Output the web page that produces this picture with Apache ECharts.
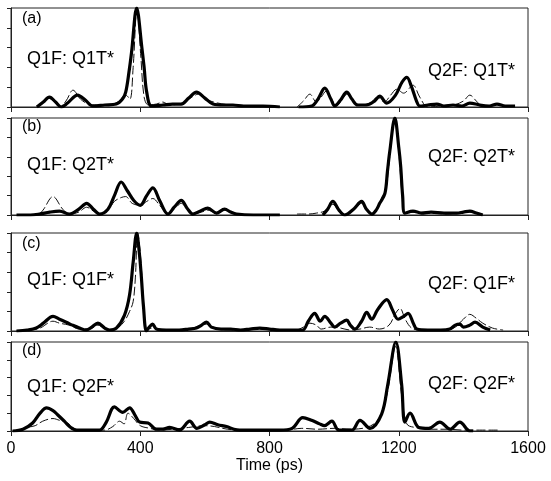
<!DOCTYPE html>
<html><head><meta charset="utf-8">
<script src="https://cdn.jsdelivr.net/npm/echarts@6/dist/echarts.min.js"></script>
<style>html,body{margin:0;padding:0;background:#fff}#c{width:551px;height:481px}</style>
</head><body><div id="c"></div>
<script>
var xTicks = [0, 400, 800, 1200, 1600];
var panelLabels = ['(a)', '(b)', '(c)', '(d)'];
var leftLabels = ['Q1F: Q1T*', 'Q1F: Q2T*', 'Q1F: Q1F*', 'Q1F: Q2F*'];
var rightLabels = ['Q2F: Q1T*', 'Q2F: Q2T*', 'Q2F: Q1F*', 'Q2F: Q2F*'];

var aThick = [[80,0],[100,5],[119,10],[138,5],[156,0],[175,4],[206,12],[230,7],[253,1],[290,2],[326,3],[345,8],[355,15],[365,35],[373,55],[389,100],[405,60],[412,40],[420,15],[435,1],[470,2],[500,3],[527,3],[550,9],[574,15],[600,9],[625,3],[660,2],[687,2],[720,1],[780,1],[832,0],[860,null],[890,0],[930,1],[950,8],[971,19],[990,8],[1002,1],[1020,7],[1039,15],[1055,8],[1073,2],[1100,2],[1125,6],[1141,11],[1163,4],[1190,12],[1210,25],[1225,30],[1240,20],[1255,6],[1265,1],[1290,2],[1318,3],[1340,1],[1368,2],[1395,1],[1420,4],[1450,2],[1480,1],[1504,3],[1530,1],[1560,1]];
var aThin = [[80,0],[100,4],[115,9],[135,5],[150,0],[170,6],[192,17],[215,8],[240,3],[270,2],[300,2],[330,5],[355,12],[368,8],[378,40],[390,100],[402,50],[412,10],[425,2],[450,3],[470,5],[490,2],[530,4],[560,10],[580,13],[610,7],[640,4],[680,2],[720,1],[780,0],[832,0],[860,null],[885,0],[905,6],[925,13],[945,5],[960,10],[975,16],[995,6],[1010,2],[1025,8],[1040,13],[1060,6],[1080,2],[1110,4],[1135,10],[1155,5],[1175,12],[1194,18],[1215,14],[1244,22],[1265,10],[1290,0],[1330,1],[1370,2],[1400,6],[1420,12],[1440,6],[1452,2]];
var bThick = [[17,0],[60,0],[88,1],[120,3],[150,4],[181,1],[210,6],[234,12],[255,6],[274,1],[300,6],[320,20],[341,34],[360,25],[380,15],[400,10],[420,20],[439,28],[460,15],[486,1],[505,8],[527,15],[545,7],[563,1],[585,4],[609,7],[636,2],[661,6],[680,3],[698,1],[750,0],[832,0],[860,null],[965,0],[980,6],[996,14],[1015,5],[1033,0],[1060,6],[1085,14],[1100,6],[1117,1],[1130,5],[1141,12],[1157,22],[1165,45],[1172,65],[1188,100],[1200,70],[1206,50],[1212,20],[1219,2],[1244,4],[1270,2],[1300,3],[1340,2],[1380,2],[1400,3],[1420,4],[1440,2],[1460,0]];
var bThin = [[50,0],[85,1],[99,5],[130,19],[160,6],[181,1],[210,3],[234,8],[255,4],[274,1],[300,5],[320,14],[341,18],[355,19],[375,12],[400,10],[420,14],[439,17],[460,10],[486,1],[505,6],[527,12],[545,6],[563,1],[590,3],[609,5],[636,2],[661,5],[680,3],[700,1],[760,0],[832,0],[860,null],[885,1],[920,1],[946,2],[970,4],[996,11],[1015,4],[1033,0],[1060,5],[1085,12],[1100,5],[1117,1],[1135,8],[1150,20],[1160,25],[1172,60],[1188,98],[1200,65],[1212,15],[1222,2],[1250,3],[1300,2],[1350,1],[1400,3],[1420,3],[1450,1]];
var cThick = [[17,0],[50,1],[78,3],[100,8],[130,15],[150,12],[171,9],[190,6],[212,3],[233,1],[250,4],[269,8],[290,3],[305,1],[326,3],[351,16],[367,37],[378,70],[389,100],[397,80],[403,57],[410,25],[419,0],[428,4],[438,7],[450,2],[480,1],[520,1],[550,2],[574,3],[590,6],[605,9],[620,4],[650,2],[680,2],[710,1],[740,2],[770,3],[800,2],[832,1],[870,1],[903,1],[920,10],[940,18],[957,10],[971,15],[990,8],[1002,4],[1020,8],[1039,11],[1050,6],[1064,2],[1085,10],[1101,19],[1116,12],[1135,22],[1163,32],[1180,22],[1198,12],[1215,15],[1229,18],[1245,8],[1256,2],[1290,1],[1330,1],[1358,2],[1375,6],[1389,7],[1400,4],[1420,6],[1436,9],[1460,4],[1483,1]];
var cThin = [[17,0],[60,1],[90,3],[130,10],[150,8],[180,6],[212,2],[250,3],[269,6],[290,2],[310,1],[330,3],[351,10],[367,20],[378,30],[385,55],[392,100],[400,80],[410,30],[418,2],[440,3],[480,1],[550,2],[605,7],[640,2],[700,1],[770,2],[832,1],[880,1],[905,4],[925,8],[945,6],[960,2],[990,4],[1020,3],[1050,1],[1080,2],[1110,4],[1140,2],[1170,6],[1190,18],[1204,23],[1220,12],[1240,3],[1270,1],[1330,1],[1370,3],[1400,12],[1420,17],[1440,13],[1460,8],[1490,3],[1523,1]];
var dThick = [[5,0],[37,2],[67,9],[90,20],[110,26],[130,23],[145,18],[165,11],[181,5],[202,1],[240,1],[274,1],[295,10],[320,27],[346,21],[367,26],[385,17],[398,10],[424,9],[450,2],[470,2],[491,4],[521,1],[553,11],[575,3],[600,7],[615,10],[640,7],[667,5],[690,2],[707,1],[760,1],[832,1],[870,3],[903,15],[930,12],[955,8],[970,6],[993,11],[1014,1],[1055,1],[1080,12],[1111,3],[1147,19],[1166,52],[1191,100],[1209,52],[1219,10],[1235,20],[1262,4],[1293,3],[1327,10],[1359,2],[1389,10],[1420,0],[1430,0]];
var dThin = [[20,0],[50,4],[75,6],[98,11],[130,14],[150,12],[175,9],[200,2],[240,1],[290,1],[315,5],[336,11],[350,8],[362,20],[380,14],[400,6],[430,3],[460,1],[500,2],[550,4],[600,6],[630,5],[670,2],[720,1],[800,1],[850,1],[900,3],[950,2],[1000,3],[1050,2],[1100,4],[1130,10],[1147,21],[1166,45],[1190,95],[1209,40],[1225,8],[1250,4],[1300,2],[1350,2],[1400,1],[1450,1],[1510,1]];

var thickSets = [aThick, bThick, cThick, dThick];
var thinSets = [aThin, bThin, cThin, dThin];

var FONT = '"Liberation Sans", Arial, sans-serif';
var grids = [
  {left: 11, right: 23, top: 8, height: 99},
  {left: 11, right: 23, top: 118, height: 97},
  {left: 11, right: 23, top: 233, height: 98},
  {left: 11, right: 23, top: 342, height: 89}
];
var leftY = [60, 166, 281, 388];
var tagY = [20, 128, 245, 352];
var rightY = [72, 158, 285, 385];

var option = {
  animation: false,
  backgroundColor: '#fff',
  grid: grids.map(function (g) { return Object.assign({show: true, borderColor: '#222', borderWidth: 1}, g); }),
  xAxis: grids.map(function (g, i) {
    return {
      type: 'value', gridIndex: i, min: xTicks[0], max: xTicks[xTicks.length - 1], interval: 400,
      axisLine: {show: true, onZero: false, lineStyle: {color: '#222', width: 1}},
      axisTick: {show: true, inside: false, length: 5, lineStyle: {color: '#222'}},
      splitLine: {show: false},
      axisLabel: {show: i === 3, color: '#000', fontSize: 16, fontFamily: FONT, margin: 10,
        formatter: function (v) { return String(v); }},
      name: i === 3 ? 'Time (ps)' : '', nameLocation: 'middle', nameGap: 22,
      nameTextStyle: {color: '#000', fontSize: 16, fontFamily: FONT}
    };
  }),
  yAxis: grids.map(function (g, i) {
    return {
      type: 'value', gridIndex: i, min: 0, max: 100, interval: 20,
      axisLine: {show: true, lineStyle: {color: '#222', width: 1}},
      axisTick: {show: true, inside: false, length: 4, lineStyle: {color: '#222'}},
      splitLine: {show: false},
      axisLabel: {show: false}
    };
  }),
  series: [],
  graphic: []
};
for (var i = 0; i < 4; i++) {
  option.series.push({
    type: 'line', xAxisIndex: i, yAxisIndex: i, data: thinSets[i], showSymbol: false, smooth: 0.35,
    connectNulls: false, lineStyle: {color: '#111', width: 1, type: [9, 3]}, z: 2
  });
  option.series.push({
    type: 'line', xAxisIndex: i, yAxisIndex: i, data: thickSets[i], showSymbol: false, smooth: 0.35,
    connectNulls: false, lineStyle: {color: '#000', width: 3.2}, z: 3
  });
  option.graphic.push({type: 'text', left: 22, top: tagY[i] - 9, style: {text: panelLabels[i], font: '16px ' + FONT, fill: '#000'}});
  option.graphic.push({type: 'text', left: 27, top: leftY[i] - 10, style: {text: leftLabels[i], font: '18px ' + FONT, fill: '#000'}});
  option.graphic.push({type: 'text', right: 36, top: rightY[i] - 10, style: {text: rightLabels[i], font: '18px ' + FONT, fill: '#000'}});
}
var chart = echarts.init(document.getElementById('c'), null, {renderer: 'canvas'});
chart.setOption(option);
</script>
</body></html>
